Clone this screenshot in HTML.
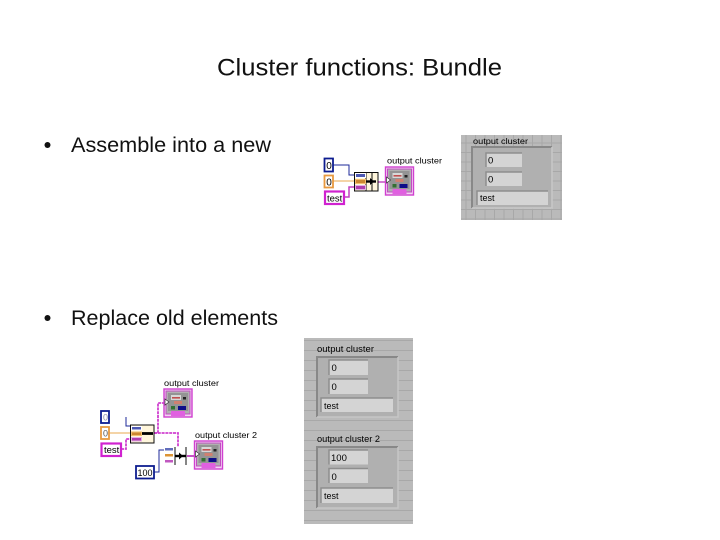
<!DOCTYPE html>
<html><head><meta charset="utf-8"><style>
html,body{margin:0;padding:0;background:#fff}
svg{display:block}
text{font-family:"Liberation Sans",sans-serif}
</style></head><body>
<svg width="720" height="540" viewBox="0 0 720 540" xmlns="http://www.w3.org/2000/svg">
<defs>
<filter id="b" x="-5%" y="-5%" width="110%" height="110%"><feGaussianBlur stdDeviation="0.25"/></filter>
<pattern id="grid" width="9.5" height="9.5" patternUnits="userSpaceOnUse"><rect width="9.5" height="9.5" fill="#bababa"/><path d="M0 .5H9.5M.5 0V9.5" stroke="#a8a8a8" stroke-width="1"/></pattern>
<pattern id="hl" width="10" height="10" patternUnits="userSpaceOnUse"><rect width="10" height="10" fill="#bababa"/><path d="M0 .5H10" stroke="#a8a8a8" stroke-width="1"/></pattern>
<g id="icon">
<rect x="0" y="0" width="28" height="28" fill="#f3d4f3" stroke="#d040d0" stroke-width="1.400"/>
<rect x="2" y="2" width="24" height="23" fill="#b0b0b0" stroke="#c050c0" stroke-width="1"/>
<rect x="4" y="4" width="20" height="18" fill="#949494"/>
<rect x="7" y="6" width="10" height="5" fill="#d8d8d8"/>
<rect x="8" y="8" width="8" height="1.600" fill="#c05050"/>
<rect x="10" y="12" width="8" height="3" fill="#d08070"/>
<rect x="19" y="8" width="3" height="2.500" fill="#222"/>
<rect x="7" y="17" width="4" height="3.500" fill="#307030"/>
<rect x="14" y="17" width="8" height="4" fill="#101088"/>
<rect x="7" y="22" width="14" height="5" fill="#e060e0"/>
<path d="M1 10l4 3-4 3z" fill="#fff" stroke="#333" stroke-width=".7"/>
</g>
</defs>

<text x="217" y="75.500" font-size="24" fill="#111" textLength="285" lengthAdjust="spacingAndGlyphs">Cluster functions: Bundle</text>
<circle cx="47.500" cy="145" r="3" fill="#111"/>
<text x="71" y="152" font-size="21.500" fill="#111" textLength="200" lengthAdjust="spacingAndGlyphs">Assemble into a new</text>
<circle cx="47.500" cy="318" r="3" fill="#111"/>
<text x="71" y="325" font-size="21.500" fill="#111" textLength="207" lengthAdjust="spacingAndGlyphs">Replace old elements</text>

<!-- top block diagram -->
<g filter="url(#b)">
<path d="M333 165H349V175H355" fill="none" stroke="#1a2a9a" stroke-width="1"/>
<path d="M333 181H355" fill="none" stroke="#e8a850" stroke-width="1"/>
<path d="M344 197H349V187H355" fill="none" stroke="#c040c0" stroke-width="1.500"/>
<path d="M378 182H386" fill="none" stroke="#c040c0" stroke-width="1.400"/>
<rect x="324.500" y="158.500" width="8.500" height="13" fill="#fff" stroke="#101f90" stroke-width="1.800"/>
<rect x="324.500" y="175.500" width="8.500" height="12" fill="#fff" stroke="#e89a40" stroke-width="1.800"/>
<rect x="325" y="191.500" width="19" height="12.500" fill="#fff" stroke="#d020d0" stroke-width="2.200"/>
<text x="326.200" y="169" font-size="10" fill="#000">0</text>
<text x="326.200" y="185.500" font-size="10" fill="#000">0</text>
<text x="327" y="201.500" font-size="9.500" fill="#000">test</text>
<rect x="354.500" y="172.500" width="23.500" height="18.500" fill="#fff6dc" stroke="#111" stroke-width="1"/>
<path d="M366 172.500V191M372 172.500V191" stroke="#111" stroke-width="1"/>
<rect x="355" y="173" width="11" height="5" fill="#fff"/><rect x="356" y="174" width="9" height="3" fill="#2030a0" opacity=".8"/>
<rect x="355" y="179" width="11" height="5" fill="#f3c070"/><rect x="356" y="180" width="9" height="3" fill="#c07820" opacity=".8"/>
<rect x="355" y="185" width="11" height="5" fill="#e4b0e4"/><rect x="356" y="186" width="9" height="3" fill="#a020a0" opacity=".8"/>
<path d="M366 181.500H376" stroke="#000" stroke-width="2.400"/>
<path d="M370 178l4 3.500-4 3.500z" fill="#000"/>
<use href="#icon" x="385.500" y="167"/>
<text x="387" y="163.500" font-size="8.500" fill="#000" textLength="55" lengthAdjust="spacingAndGlyphs">output cluster</text>
</g>

<!-- top right panel -->
<g filter="url(#b)">
<rect x="461" y="135" width="101" height="85" fill="url(#grid)"/>
<text x="473" y="144" font-size="8.500" fill="#000" textLength="55" lengthAdjust="spacingAndGlyphs">output cluster</text>
<rect x="472" y="147" width="80" height="61" fill="#b0b0b0"/>
<path d="M472 208V147H552" fill="none" stroke="#888" stroke-width="2"/>
<path d="M552 147V208H472" fill="none" stroke="#c8c8c8" stroke-width="1.500"/>
<rect x="486" y="153" width="36" height="14" fill="#d4d4d4"/><path d="M486 167V153H522" fill="none" stroke="#8e8e8e" stroke-width="1.500"/>
<rect x="486" y="172" width="36" height="14" fill="#d4d4d4"/><path d="M486 186V172H522" fill="none" stroke="#8e8e8e" stroke-width="1.500"/>
<rect x="477" y="191" width="71" height="14" fill="#d4d4d4"/><path d="M477 205V191H548" fill="none" stroke="#8e8e8e" stroke-width="1.500"/>
<text x="488" y="163.500" font-size="9.500" fill="#000">0</text>
<text x="488" y="182.500" font-size="9.500" fill="#000">0</text>
<text x="480" y="201" font-size="9" fill="#000">test</text>
</g>

<!-- bottom block diagram -->
<g filter="url(#b)">
<path d="M126 417V426H131" fill="none" stroke="#1a2a9a" stroke-width="1"/>
<path d="M109 433H131" fill="none" stroke="#e8a850" stroke-width="1"/>
<path d="M121 449H126V439H131" fill="none" stroke="#d040d0" stroke-width="1.800" stroke-dasharray="3 .8"/>
<path d="M154 433H158V403H165" fill="none" stroke="#d040d0" stroke-width="1.800" stroke-dasharray="3 .8"/>
<path d="M154 433H178V447" fill="none" stroke="#d040d0" stroke-width="1.800" stroke-dasharray="3 .8"/>
<path d="M187 456H195" fill="none" stroke="#c040c0" stroke-width="1.800"/>
<path d="M154 472H159V450H165" fill="none" stroke="#1a2a9a" stroke-width="1"/>
<rect x="101" y="411" width="8" height="12" fill="#fff" stroke="#101f90" stroke-width="1.800"/>
<rect x="101" y="427" width="8" height="12" fill="#fff" stroke="#e89a40" stroke-width="1.800"/>
<rect x="101.500" y="443.500" width="19.500" height="12.500" fill="#fff" stroke="#d020d0" stroke-width="2.200"/>
<rect x="136" y="466" width="18" height="12.500" fill="#fff" stroke="#101f90" stroke-width="1.800"/>
<text x="103" y="420.500" font-size="9" fill="#88a">0</text>
<text x="103" y="436.500" font-size="9" fill="#555">0</text>
<text x="104" y="453" font-size="9.500" fill="#000">test</text>
<text x="137.500" y="476" font-size="9" fill="#000" textLength="15">100</text>
<rect x="130.500" y="425" width="23.500" height="18" fill="#fff6dc" stroke="#111" stroke-width="1"/>
<rect x="131" y="426" width="11" height="4.500" fill="#fff"/><rect x="132" y="427" width="9" height="2.500" fill="#2030a0" opacity=".8"/>
<rect x="131" y="431.500" width="11" height="4.500" fill="#f3c070"/><rect x="132" y="432.500" width="9" height="2.500" fill="#c07820" opacity=".8"/>
<rect x="131" y="437" width="11" height="4.500" fill="#e4b0e4"/><rect x="132" y="438" width="9" height="2.500" fill="#a020a0" opacity=".8"/>
<path d="M142 433.500H153" stroke="#000" stroke-width="2.800"/>
<rect x="164" y="447" width="10" height="5" fill="#fff"/><rect x="165" y="448" width="8" height="2.500" fill="#2030a0" opacity=".7"/>
<rect x="164" y="453" width="10" height="5" fill="#fff"/><rect x="165" y="454" width="8" height="2.500" fill="#d88820" opacity=".9"/>
<rect x="164" y="459" width="10" height="5" fill="#fff"/><rect x="165" y="460" width="8" height="2.500" fill="#b030b0" opacity=".8"/>
<path d="M175 447V465M186 447V465" stroke="#111" stroke-width="1"/>
<path d="M175 456H186" stroke="#000" stroke-width="2.400"/>
<path d="M179 452.500l4 3.500-4 3.500z" fill="#000"/>
<use href="#icon" x="164" y="389"/>
<use href="#icon" x="194.500" y="441"/>
<text x="164" y="386" font-size="8.500" fill="#000" textLength="55" lengthAdjust="spacingAndGlyphs">output cluster</text>
<text x="195" y="438" font-size="8.500" fill="#000" textLength="62" lengthAdjust="spacingAndGlyphs">output cluster 2</text>
</g>

<!-- bottom panel -->
<g filter="url(#b)">
<rect x="304" y="338" width="109" height="186" fill="url(#hl)"/>
<text x="317" y="352" font-size="9" fill="#000" textLength="57" lengthAdjust="spacingAndGlyphs">output cluster</text>
<rect x="317" y="357" width="81" height="60" fill="#b0b0b0"/>
<path d="M317 417V357H398" fill="none" stroke="#888" stroke-width="2"/>
<path d="M398 357V417H317" fill="none" stroke="#c6c6c6" stroke-width="1.500"/>
<rect x="329" y="360" width="39" height="15" fill="#d4d4d4"/><path d="M329 375V360H368" fill="none" stroke="#8e8e8e" stroke-width="1.500"/>
<rect x="329" y="379" width="39" height="15" fill="#d4d4d4"/><path d="M329 394V379H368" fill="none" stroke="#8e8e8e" stroke-width="1.500"/>
<rect x="321" y="398" width="72" height="14" fill="#d4d4d4"/><path d="M321 412V398H393" fill="none" stroke="#8e8e8e" stroke-width="1.500"/>
<text x="331.500" y="371" font-size="9.500" fill="#000">0</text>
<text x="331.500" y="390" font-size="9.500" fill="#000">0</text>
<text x="324" y="409" font-size="9" fill="#000">test</text>

<text x="317" y="442" font-size="9" fill="#000" textLength="63" lengthAdjust="spacingAndGlyphs">output cluster 2</text>
<rect x="317" y="447" width="81" height="61" fill="#b0b0b0"/>
<path d="M317 508V447H398" fill="none" stroke="#888" stroke-width="2"/>
<path d="M398 447V508H317" fill="none" stroke="#c6c6c6" stroke-width="1.500"/>
<rect x="329" y="450" width="39" height="14.500" fill="#d4d4d4"/><path d="M329 464.500V450H368" fill="none" stroke="#8e8e8e" stroke-width="1.500"/>
<rect x="329" y="468.500" width="39" height="14.500" fill="#d4d4d4"/><path d="M329 483V468.500H368" fill="none" stroke="#8e8e8e" stroke-width="1.500"/>
<rect x="321" y="488" width="72" height="15" fill="#d4d4d4"/><path d="M321 503V488H393" fill="none" stroke="#8e8e8e" stroke-width="1.500"/>
<text x="331" y="461" font-size="9.500" fill="#000">100</text>
<text x="331.500" y="480" font-size="9.500" fill="#000">0</text>
<text x="324" y="499" font-size="9" fill="#000">test</text>
</g>
</svg>
</body></html>
